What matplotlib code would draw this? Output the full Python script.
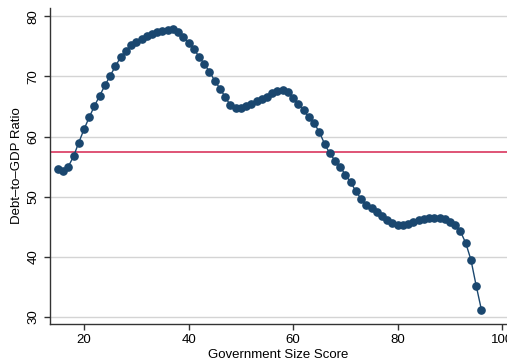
import numpy as np
import matplotlib.pyplot as plt

plt.rcParams['font.family'] = ['Liberation Sans', 'DejaVu Sans']

# government size score (x) and fitted debt-to-GDP ratio (y)
score = list(range(15, 97))
debt = [54.6, 54.3, 55.0, 56.7, 59.0, 61.2, 63.2, 65.1, 66.8, 68.5,
        70.1, 71.7, 73.2, 74.3, 75.2, 75.7, 76.2, 76.7, 77.1, 77.4,
        77.6, 77.8, 77.9, 77.4, 76.6, 75.6, 74.6, 73.3, 72.1, 70.8,
        69.3, 68.0, 66.6, 65.2, 64.8, 64.8, 65.1, 65.5, 65.9, 66.2,
        66.6, 67.2, 67.6, 67.7, 67.4, 66.5, 65.4, 64.4, 63.2, 62.2,
        60.8, 58.8, 57.2, 56.0, 55.0, 53.6, 52.4, 50.9, 49.6, 48.6,
        48.1, 47.5, 46.8, 46.1, 45.6, 45.3, 45.3, 45.5, 45.8, 46.1,
        46.3, 46.4, 46.45, 46.4, 46.25, 45.8, 45.3, 44.2, 42.3, 39.5,
        35.2, 31.2]
mean_debt = 57.35

navy = '#1a476f'

fig = plt.figure(figsize=(5.07, 3.62), dpi=100)
# axes box in pixels: left 50, bottom spine at y=324, top at y=8
ax = fig.add_axes([50/507, 38/362, 457/507, 316/362])

ax.plot(score, debt, '-o', color=navy, lw=1, ms=5.2, mec=navy, zorder=3)
ax.axhline(mean_debt, color='#d9365e', lw=1.2, zorder=2)

ax.set_xlim(13.5, 100.9)
ax.set_ylim(28.8, 81.4)
ax.set_xticks([20, 40, 60, 80, 100])
ax.set_yticks([30, 40, 50, 60, 70, 80])
ax.grid(axis='y', color='#d4d4d4', lw=1)
ax.set_axisbelow(True)

for s in ['top', 'right']:
    ax.spines[s].set_visible(False)
for s in ['left', 'bottom']:
    ax.spines[s].set_color('#333333')
    ax.spines[s].set_linewidth(1)

ax.tick_params(axis='both', length=4, width=1, color='#333333', labelsize=9.5, pad=3.5)
plt.setp(ax.get_yticklabels(), rotation=90, va='center')

ax.set_xlabel('Government Size Score', fontsize=9.5, labelpad=1.5)
ax.set_ylabel('Debt\u2013to\u2013GDP Ratio', fontsize=9.5, labelpad=3)

fig.savefig('out.png')
